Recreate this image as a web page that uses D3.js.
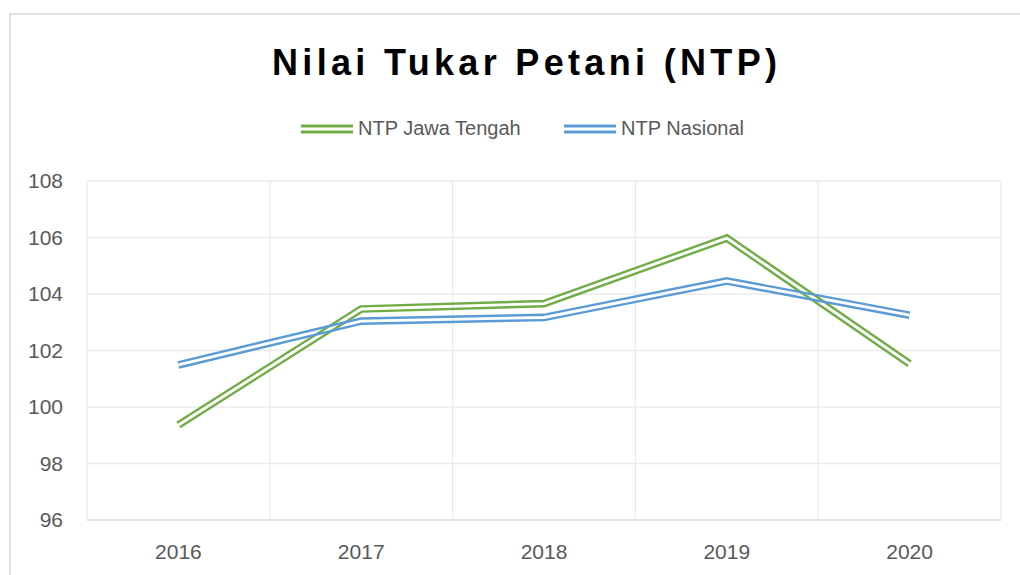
<!DOCTYPE html>
<html>
<head>
<meta charset="utf-8">
<script src="https://cdn.jsdelivr.net/npm/d3@7"></script>
<style>
  body { margin: 0; background: #fff; }
  svg { display: block; font-family: "Liberation Sans", Arial, sans-serif; }
</style>
</head>
<body>
<svg id="NTP_CHART" width="1020" height="575"></svg>
<script>
const years = ["2016", "2017", "2018", "2019", "2020"];
const ntpJateng = [99.36, 103.47, 103.66, 105.98, 101.53];
const ntpNasional = [101.49, 103.04, 103.17, 104.46, 103.25];
const yTicks = [96, 98, 100, 102, 104, 106, 108];
const seriesNames = ["NTP Jawa Tengah", "NTP Nasional"];
const seriesColors = ["#70AD47", "#5B9BD5"];

const width = 1020;
const height = 575;
const margin = { top: 181, right: 19, bottom: 55, left: 87 };

const svg = d3.select("#NTP_CHART").attr("viewBox", [0, 0, width, height]);

// chart area border (runs off the right and bottom edge like the reference)
svg.append("rect")
  .attr("x", 10).attr("y", 14)
  .attr("width", 1030).attr("height", 600)
  .attr("fill", "#fff")
  .attr("stroke", "#D9D9D9")
  .attr("stroke-width", 1.5);

const x = d3.scaleBand()
  .domain(years)
  .range([margin.left, width - margin.right])
  .padding(0);

const y = d3.scaleLinear()
  .domain([96, 108])
  .range([height - margin.bottom, margin.top]);

// gridlines
const grid = svg.append("g").attr("class", "grid");
grid.selectAll("line.h")
  .data(yTicks)
  .join("line")
  .attr("class", "h")
  .attr("x1", margin.left)
  .attr("x2", width - margin.right)
  .attr("y1", (d) => y(d))
  .attr("y2", (d) => y(d))
  .attr("stroke", (d) => (d === 96 ? "#D9D9D9" : "#EBEBEB"))
  .attr("stroke-width", 1.3);

const vEdges = years.map((d) => x(d)).concat([x(years[years.length - 1]) + x.bandwidth()]);
grid.selectAll("line.v")
  .data(vEdges)
  .join("line")
  .attr("class", "v")
  .attr("x1", (d) => d)
  .attr("x2", (d) => d)
  .attr("y1", margin.top)
  .attr("y2", y(96))
  .attr("stroke", "#EBEBEB")
  .attr("stroke-width", 1.3);

// axes (labels only)
const yAxis = svg.append("g")
  .attr("transform", `translate(${margin.left - 24},0)`)
  .call(d3.axisLeft(y).tickValues(yTicks).tickSize(0).tickPadding(0));
yAxis.select(".domain").remove();
yAxis.selectAll("text")
  .attr("fill", "#595959")
  .style("font-size", "21px");

const xAxis = svg.append("g")
  .attr("transform", `translate(0,${y(96)})`)
  .call(d3.axisBottom(x).tickSize(0).tickPadding(24));
xAxis.select(".domain").remove();
xAxis.selectAll("text")
  .attr("fill", "#595959")
  .style("font-size", "21px");

// double ("compound") lines: wide stroke with a transparent middle via mask
const line = d3.line()
  .x((d, i) => x(years[i]) + x.bandwidth() / 2)
  .y((d) => y(d));

const defs = svg.append("defs");
const allSeries = [ntpJateng, ntpNasional];

allSeries.forEach((values, i) => {
  const id = "mask-" + i;
  const mask = defs.append("mask")
    .attr("id", id)
    .attr("maskUnits", "userSpaceOnUse")
    .attr("x", 0).attr("y", 0)
    .attr("width", width).attr("height", height);
  mask.append("rect").attr("width", width).attr("height", height).attr("fill", "#fff");
  mask.append("path")
    .attr("d", line(values))
    .attr("fill", "none")
    .attr("stroke", "#000")
    .attr("stroke-width", 2.9)
    .attr("stroke-linejoin", "miter");

  svg.append("path")
    .attr("d", line(values))
    .attr("fill", "none")
    .attr("stroke", seriesColors[i])
    .attr("stroke-width", 7.7)
    .attr("stroke-linejoin", "miter")
    .attr("mask", `url(#${id})`);
});

// title
svg.append("text")
  .attr("x", 524.5)
  .attr("y", 75)
  .attr("text-anchor", "middle")
  .attr("textLength", 505)
  .attr("lengthAdjust", "spacing")
  .style("font-size", "36px")
  .style("font-weight", 700)
  .attr("fill", "#000")
  .text("Nilai Tukar Petani (NTP)");

// legend
const legendX = [301, 564];
const legend = svg.append("g").attr("class", "legend");
seriesNames.forEach((name, i) => {
  const g = legend.append("g").attr("transform", `translate(${legendX[i]},129)`);
  [-3, 3].forEach((dy) => {
    g.append("line")
      .attr("x1", 0).attr("x2", 52)
      .attr("y1", dy).attr("y2", dy)
      .attr("stroke", seriesColors[i])
      .attr("stroke-width", 2.8);
  });
  g.append("text")
    .attr("x", 57)
    .attr("y", 6)
    .attr("fill", "#595959")
    .style("font-size", "20px")
    .text(name);
});
</script>
</body>
</html>
